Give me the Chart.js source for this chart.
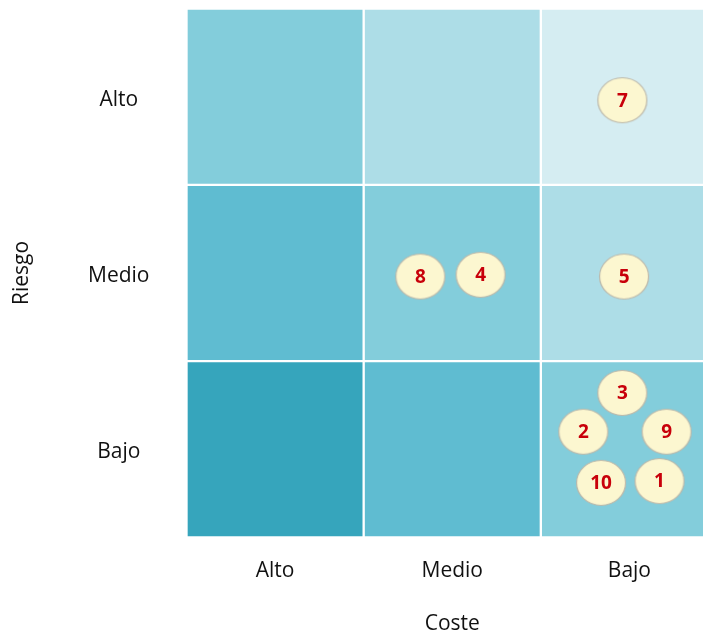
<!DOCTYPE html>
<html>
<head>
<meta charset="utf-8">
<script src="https://cdn.jsdelivr.net/npm/chart.js@4/dist/chart.umd.min.js"></script>
<style>
    html, body { margin: 0; padding: 0; background: #fff; overflow: hidden; }
    #wrap { width: 703px; height: 635px; overflow: hidden; }
</style>
</head>
<body>
<div id="wrap"><canvas id="chart" width="718" height="637"></canvas></div>
<script>
// categories
const costeLabels = ["Alto", "Medio", "Bajo"];      // x, left to right
const riesgoLabels = ["Bajo", "Medio", "Alto"];     // y, bottom to top

// cell colour for each riesgo row (bottom to top), one per coste column
const rowBajo  = ["#36a5bc", "#5fbcd1", "#83cddb"];
const rowMedio = ["#5fbcd1", "#83cddb", "#addde7"];
const rowAlto  = ["#83cddb", "#addde7", "#d5edf2"];

// numbered items placed inside the grid (x: coste 0..3, y: riesgo 0..3)
const itemIds = ["7", "8", "4", "5", "3", "2", "9", "10", "1"];
const itemX   = [2.46, 1.32, 1.66, 2.47, 2.46, 2.24, 2.71, 2.34, 2.67];
const itemY   = [2.48, 1.48, 1.49, 1.48, 0.82, 0.60, 0.60, 0.31, 0.32];

const FONT = "'Open Sans', 'DejaVu Sans', sans-serif";

// ellipse marker used as point style
function makeMarker()
{
    let c = document.createElement("canvas");
    c.width = 52;
    c.height = 48;
    let g = c.getContext("2d");
    g.beginPath();
    g.ellipse(26, 24, 24.5, 22.5, 0, 0, Math.PI * 2);
    g.fillStyle = "#fcf7d0";
    g.fill();
    g.lineWidth = 1.2;
    g.strokeStyle = "#bcb8aa";
    g.stroke();
    return c;
}

// write the item number on each marker
const itemLabels = {
    id: "itemLabels",
    afterDatasetsDraw(chart)
    {
        let meta = chart.getDatasetMeta(3);
        let ctx = chart.ctx;
        ctx.save();
        ctx.font = "bold 19px " + FONT;
        ctx.fillStyle = "#c8000a";
        ctx.textAlign = "center";
        ctx.textBaseline = "middle";
        meta.data.forEach((p, i) => ctx.fillText(itemIds[i], p.x, p.y + 1));
        ctx.restore();
    }
};

// one row of cells: a bar of height 1 in every column
function cellSet(colors)
{
    return {
        type: "bar",
        order: 1,
        data: costeLabels.map((c, i) => ({ x: i + 0.5, y: 1 })),
        backgroundColor: colors,
        borderColor: "#ffffff",
        borderWidth: 1.5,
        borderSkipped: false,
        barPercentage: 1,
        categoryPercentage: 1,
        stack: "grid"
    };
}

function centerTicks(s)
{
    s.ticks = [{ value: 0.5 }, { value: 1.5 }, { value: 2.5 }];
}

// no extra room for the labels at the axis ends
function noPadding(s)
{
    s.paddingLeft = 0;
    s.paddingRight = 0;
    s.paddingTop = 0;
    s.paddingBottom = 0;
}

let chart = new Chart(document.getElementById("chart").getContext("2d"),
{
    type: "bar",
    data:
    {
        datasets:
        [
            cellSet(rowBajo),
            cellSet(rowMedio),
            cellSet(rowAlto),
            {
                type: "bubble",
                order: 0,
                data: itemX.map((x, i) => ({ x: x, y: itemY[i], r: 24 })),
                pointStyle: makeMarker()
            }
        ]
    },
    options:
    {
        responsive: false,
        animation: false,
        layout: { autoPadding: false, padding: { top: 8.5, left: 0, right: 0, bottom: 0 } },
        plugins: { legend: { display: false }, tooltip: { enabled: false } },
        scales:
        {
            x:
            {
                type: "linear",
                stacked: true,
                offset: false,
                min: 0,
                max: 3,
                grid: { display: false, drawTicks: false, offset: false },
                border: { display: false },
                afterBuildTicks: centerTicks,
                ticks:
                {
                    color: "#111",
                    font: { family: FONT, size: 21 },
                    padding: 21,
                    callback: (v) => costeLabels[Math.floor(v)]
                },
                title: { display: true, text: "Coste", color: "#111", font: { family: FONT, size: 21 }, padding: { top: 0, bottom: 0 } },
                afterFit(s) { s.height = 99.5; noPadding(s); }
            },
            y:
            {
                type: "linear",
                stacked: true,
                min: 0,
                max: 3,
                grid: { display: false, drawTicks: false },
                border: { display: false },
                afterBuildTicks: centerTicks,
                ticks:
                {
                    color: "#111",
                    font: { family: FONT, size: 21 },
                    crossAlign: "center",
                    padding: 37,
                    labelOffset: 3,
                    callback: (v) => riesgoLabels[Math.floor(v)]
                },
                title: { display: true, text: "Riesgo", color: "#111", font: { family: FONT, size: 21 }, padding: { top: 9, bottom: 0 } },
                afterFit(s) { s.width = 186.5; noPadding(s); }
            }
        }
    },
    plugins: [itemLabels]
});
</script>
</body>
</html>
